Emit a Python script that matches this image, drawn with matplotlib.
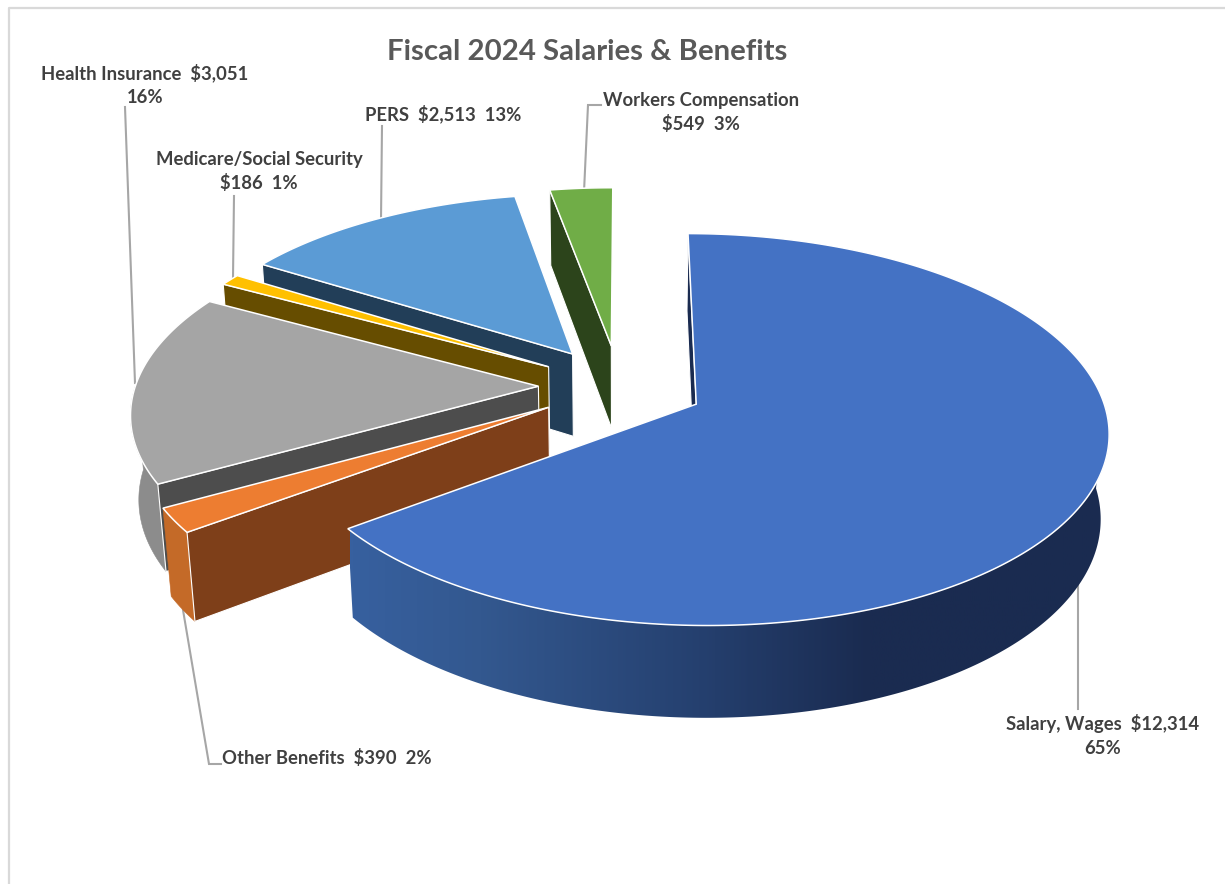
import numpy as np
import matplotlib
matplotlib.use('Agg')
import matplotlib.pyplot as plt
from matplotlib.colors import to_rgb, LinearSegmentedColormap
from matplotlib.patches import Polygon

plt.rcParams['font.family'] = ['Lato', 'DejaVu Sans']

# values in $ thousands, in drawing order clockwise from 12 o'clock
names = ['Salary, Wages', 'Other Benefits', 'Health Insurance',
         'Medicare/Social Security', 'PERS', 'Workers Compensation']
values = [12314, 390, 3051, 186, 2513, 549]
explode = [0.212, 0.205, 0.20, 0.205, 0.21, 0.22]

top_colors = ['#4472C4', '#ED7D31', '#A5A5A5', '#FFC000', '#5B9BD5', '#70AD47']
side_colors = ['#1A2B50', '#7E3F19', '#4D4D4D', '#664D00', '#223E58', '#2C441B']

# outer wall shading, light to dark from left to right on screen
wall_stops = {
    0: ([350, 480, 700, 870, 1110], ['#37609F', '#33588F', '#25406F', '#1A2B50', '#1A2B50']),
    1: ([0, 2000], ['#C46A28', '#C46A28']),
    2: ([0, 2000], ['#8C8C8C', '#8C8C8C']),
}

# perspective of the pie plane
CX, CY = 619, 386
S, SQ, SH = 403, 188, 85
K, M = 0.128, 0.017
START_ANGLE = 0.1


def project(x, y, z=0.0):
    w = 1 + K * y - M * z
    return CX + S * x / w, CY - (SQ * y + SH * z) / w


def arc_pts(a0, a1, ox, oy, z=0.0, n=None):
    n = n or max(int(abs(a1 - a0)) * 2, 4)
    t = np.radians(np.linspace(a0, a1, n))
    return project(ox + np.sin(t), oy + np.cos(t), z)


fig = plt.figure(figsize=(12.25, 8.84), dpi=100, facecolor='white')
ax = fig.add_axes([0, 0, 1, 1])

# chart frame
ax.plot([8.5, 8.5, 1225], [884, 7.5, 7.5], color='#D9D9D9', lw=1.6, zorder=1)

total = sum(values)
sweep = [v / total * 360 for v in values]
starts = np.concatenate([[0], np.cumsum(sweep)[:-1]]) + START_ANGLE

# back slices first so the front ones overlap them
for i in [5, 4, 3, 2, 1, 0]:
    a0, a1 = starts[i], starts[i] + sweep[i]
    mid = np.radians((a0 + a1) / 2)
    ox, oy = explode[i] * np.sin(mid), explode[i] * np.cos(mid)
    z = 10 + (5 - i)
    ax0, ay0 = project(ox, oy)
    bx0, by0 = project(ox, oy, -1)

    # outer wall, front half of the rim only
    lo, hi = max(a0, 90), min(a1, 270)
    if hi > lo and i in wall_stops:
        tx, ty = arc_pts(lo, hi, ox, oy)
        bx, by = arc_pts(lo, hi, ox, oy, -1)
        outline = np.column_stack([np.r_[tx, bx[::-1]], np.r_[ty, by[::-1]]])
        xs, cs = wall_stops[i]
        if cs[0] == cs[-1]:
            ax.add_patch(Polygon(outline, facecolor=cs[0], edgecolor=cs[0], lw=0.4, zorder=z))
        else:
            clip = Polygon(outline, transform=ax.transData, facecolor='none', edgecolor='none')
            ax.add_patch(clip)
            cmap = LinearSegmentedColormap.from_list(
                'wall', [((x - xs[0]) / (xs[-1] - xs[0]), to_rgb(c)) for x, c in zip(xs, cs)])
            im = ax.imshow(np.linspace(0, 1, 400)[None, :], cmap=cmap, aspect='auto',
                           extent=[xs[0], xs[-1], 800, 400], zorder=z)
            im.set_clip_path(clip)

    # radial walls that face the viewer
    sx0, sy0 = arc_pts(a0, a0, ox, oy, 0, 1)
    ex0, ey0 = arc_pts(a1, a1, ox, oy, 0, 1)
    for (px, py), ang, show in [((sx0[0], sy0[0]), a0, sx0[0] < ax0 - 3),
                                ((ex0[0], ey0[0]), a1, ex0[0] > ax0 + 3)]:
        if not show:
            continue
        qx, qy = arc_pts(ang, ang, ox, oy, -1, 1)
        ax.fill([ax0, px, qx[0], bx0], [ay0, py, qy[0], by0],
                facecolor=side_colors[i], edgecolor='white', lw=0.8, zorder=z)

    # top face
    tx, ty = arc_pts(a0, a1, ox, oy)
    ax.fill(np.r_[ax0, tx], np.r_[ay0, ty], facecolor=top_colors[i],
            edgecolor='white', lw=1.1, joinstyle='miter', zorder=z + 0.5)

# leader lines
leaders = [
    ([1078, 1078], [583, 709]),
    ([183, 209, 221], [610, 764, 764]),
    ([125, 135], [107, 383]),
    ([234, 233], [196, 278]),
    ([382, 381], [126, 220]),
    ([601, 588, 584], [105, 105, 192]),
]
for lx, ly in leaders:
    ax.plot(lx, ly, color='#A6A6A6', lw=1.5, zorder=5, solid_joinstyle='miter')

# data labels
money = ['${:,}'.format(v) for v in values]
pct = ['{:.0f}%'.format(v / total * 100) for v in values]
label_lines = [
    ['%s  %s' % (names[0], money[0]), pct[0]],
    ['%s  %s  %s' % (names[1], money[1], pct[1])],
    ['%s  %s' % (names[2], money[2]), pct[2]],
    [names[3], '%s  %s' % (money[3], pct[3])],
    ['%s  %s  %s' % (names[4], money[4], pct[4])],
    [names[5], '%s  %s' % (money[5], pct[5])],
]
label_xy = [(1103, 730), (327, 764), (145, 79), (259, 165), (443, 120), (701, 106)]
for lines, (lx, ly) in zip(label_lines, label_xy):
    for k, line in enumerate(lines):
        ax.text(lx, ly + 24 * k, line, ha='center', va='baseline', fontsize=13.3,
                fontweight='bold', color='#404040', zorder=30)

ax.text(587, 60, 'Fiscal 2024 Salaries & Benefits', ha='center', va='baseline',
        fontsize=21.2, fontweight='bold', color='#595959', zorder=30)

ax.set_xlim(0, 1225)
ax.set_ylim(884, 0)
ax.axis('off')

plt.savefig('out.png', dpi=100)
